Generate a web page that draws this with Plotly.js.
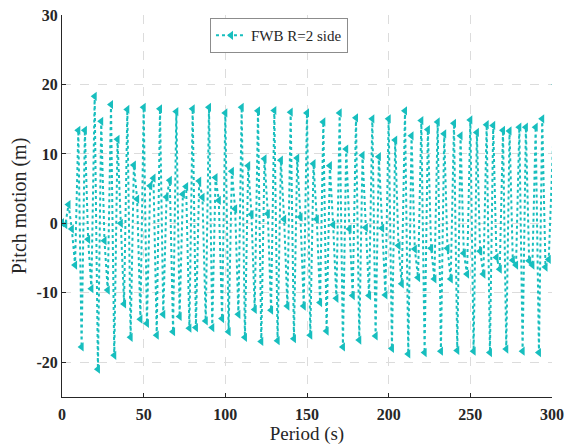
<!DOCTYPE html>
<html>
<head>
<meta charset="utf-8">
<script src="https://cdn.plot.ly/plotly-3.0.1.min.js"></script>
<style>html,body{margin:0;padding:0;background:#fff;}#chart{width:566px;height:446px;}</style>
</head>
<body>
<div id="chart"></div>
<script>
// Time (s)
var periodS = [0,2,4,6,8,10,12,14,16,18,20,22,24,26,28,30,32,34,36,38,40,42,44,46,48,50,52,54,56,58,
  60,62,64,66,68,70,72,74,76,78,80,82,84,86,88,90,92,94,96,98,100,102,104,106,108,110,112,114,116,118,
  120,122,124,126,128,130,132,134,136,138,140,142,144,146,148,150,152,154,156,158,160,162,164,166,168,170,172,174,176,178,
  180,182,184,186,188,190,192,194,196,198,200,202,204,206,208,210,212,214,216,218,220,222,224,226,228,230,232,234,236,238,
  240,242,244,246,248,250,252,254,256,258,260,262,264,266,268,270,272,274,276,278,280,282,284,286,288,290,292,294,296,298,302];
// Pitch motion (m), FWB R=2 side
var pitchFWB = [0.1,-0.2,2.7,-0.8,-6.0,13.4,-17.8,13.4,-2.3,-9.4,18.3,-21.0,14.7,-2.5,-9.6,17.1,-19.0,12.1,0.0,-11.6,
  16.4,-16.4,8.4,3.5,-13.8,16.7,-14.4,5.4,6.5,-16.1,16.5,-13.1,3.8,6.2,-15.6,16.1,-13.4,4.2,5.3,-15.1,
  16.5,-15.0,6.1,3.75,-14.05,16.7,-15.0,6.6,3.3,-13.7,15.9,-15.6,7.5,2.1,-13.1,16.7,-16.4,8.3,1.3,-12.4,
  16.2,-17.0,9.3,1.4,-12.5,16.25,-16.9,9.1,0.6,-11.9,16.0,-16.6,9.4,0.9,-11.9,15.9,-16.1,8.6,0.6,-11.4,
  14.6,-15.5,8.3,-0.2,-10.8,15.9,-17.8,10.7,-0.8,-10.4,15.2,-16.8,9.8,-0.6,-10.4,15.05,-16.2,9.6,-0.7,-10.3,
  15.05,-18.0,12.0,-3.2,-8.7,16.2,-18.8,12.6,-3.7,-7.8,14.8,-18.6,13.5,-3.6,-8.0,14.6,-18.4,12.9,-3.6,-8.0,
  14.4,-18.3,12.6,-4.3,-7.3,14.9,-18.4,13.1,-4.0,-7.3,14.2,-18.6,14.1,-4.9,-6.6,13.4,-18.1,13.3,-5.3,-6.0,
  13.85,-18.4,13.85,-5.4,-6.0,13.85,-18.6,15.05,-6.3,-5.2,20.0];
var yTickVals = [-20,-10,0,10,20,30];
var yTickText = ['-20','-10','0','10','20','30'];
var xTickVals = [0,50,100,150,200,250,300];
var xTickText = ['0','50','100','150','200','250','300'];
var seriesName = 'FWB R=2 side';

var teal = '#17BEBE';
var trace = {
  x: periodS, y: pitchFWB, type: 'scatter', mode: 'lines+markers', name: seriesName,
  line: {color: teal, width: 2, dash: 'dot'},
  marker: {symbol: 'triangle-left', size: 8, color: teal}
};
var serif = 'Liberation Serif, Times New Roman, serif';
var axisCommon = {
  showgrid: true, gridcolor: '#dcdcdc', griddash: 'dash', gridwidth: 1,
  zeroline: false, showline: true, linecolor: '#262626', linewidth: 1,
  ticks: 'inside', ticklen: 4, tickcolor: '#262626',
  tickfont: {family: serif, size: 16, color: '#262626', weight: 'bold'},
  mirror: false
};
var layout = {
  width: 566, height: 446,
  margin: {l: 62, r: 14, t: 15, b: 49},
  paper_bgcolor: '#fff', plot_bgcolor: '#fff',
  showlegend: true,
  legend: {x: 0.302, y: 0.992, xanchor: 'left', yanchor: 'top', bgcolor: '#fff',
    bordercolor: '#8c8c8c', borderwidth: 1, font: {family: serif, size: 15, color: '#262626'}},
  xaxis: Object.assign({}, axisCommon, {
    range: [0, 300], tickvals: xTickVals, ticktext: xTickText, ticklabelstandoff: 3,
    title: {text: 'Period (s)', font: {family: serif, size: 19, color: '#262626'}, standoff: 2}
  }),
  yaxis: Object.assign({}, axisCommon, {
    range: [-25, 30], tickvals: yTickVals, ticktext: yTickText,
    title: {text: 'Pitch motion (m)', font: {family: serif, size: 20, color: '#262626'}, standoff: 4}
  })
};
Plotly.newPlot('chart', [trace], layout, {displayModeBar: false, staticPlot: true});
</script>
</body>
</html>
